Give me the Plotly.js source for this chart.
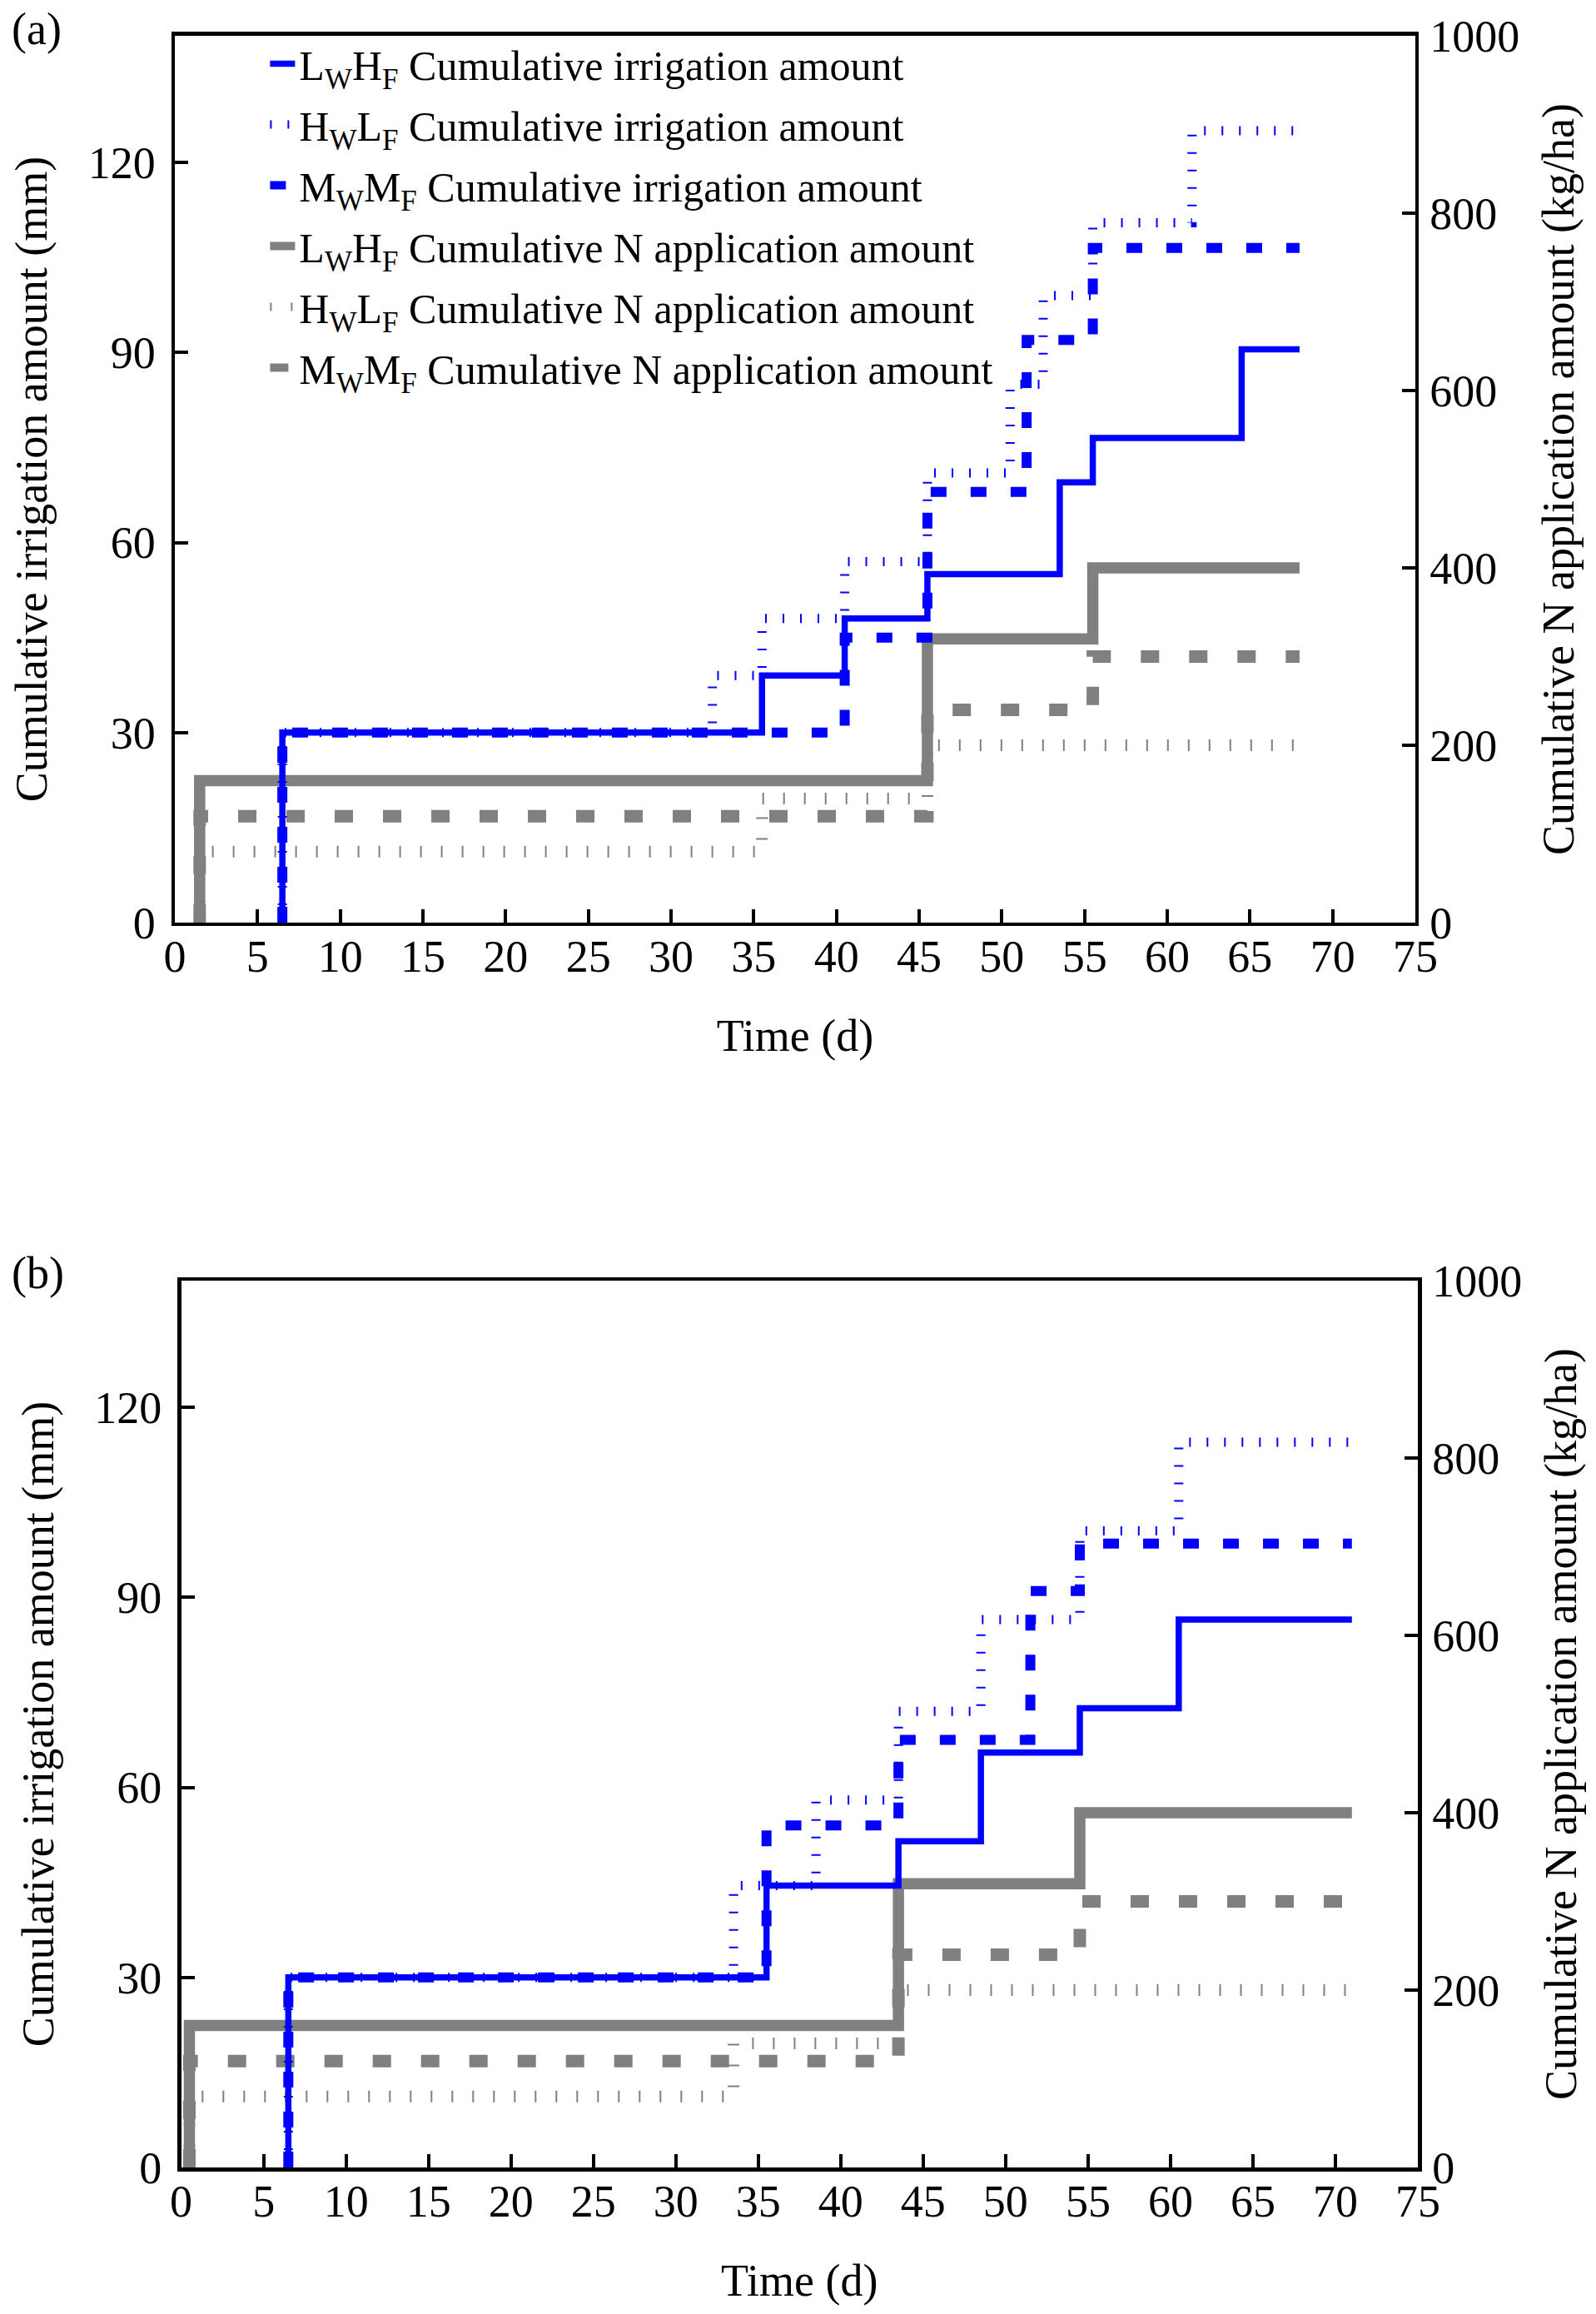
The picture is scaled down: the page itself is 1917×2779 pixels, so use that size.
<!DOCTYPE html>
<html>
<head>
<meta charset="utf-8">
<script src="https://cdn.plot.ly/plotly-3.0.1.min.js"></script>
<style>
html,body{margin:0;padding:0;background:#fff;}
#chart{width:1917px;height:2779px;}
</style>
</head>
<body>
<div id="chart"></div>
<script>
// ---------- Data (panel a) ----------
const tA_LH_irr = [6.5, 6.5, 35.5, 40.5, 45.5, 53.5, 55.5, 64.5, 68];
const vA_LH_irr = [0, 30, 39, 48, 55, 69.5, 76.5, 90.5, 90.5];
const tA_HL_irr = [6.5, 6.5, 32.5, 35.5, 40.5, 45.5, 50.5, 52.5, 55.5, 61.5, 68];
const vA_HL_irr = [0, 30, 39, 48, 57, 71, 85, 99, 110.5, 125, 125];
const tA_MM_irr = [6.5, 6.5, 40.5, 45.5, 51.5, 55.5, 68];
const vA_MM_irr = [0, 30, 45, 68, 92, 106.5, 106.5];
const tA_LH_N = [1.5, 1.5, 45.5, 55.5, 68];
const vA_LH_N = [0, 160, 320, 400, 400];
const tA_HL_N = [1.5, 1.5, 35.5, 45.5, 68];
const vA_HL_N = [0, 80, 140, 200, 200];
const tA_MM_N = [1.5, 1.5, 45.5, 55.5, 68];
const vA_MM_N = [0, 120, 240, 300, 300];

// ---------- Data (panel b) ----------
const tB_LH_irr = [6.5, 6.5, 35.5, 43.5, 48.5, 54.5, 60.5, 71];
const vB_LH_irr = [0, 30, 44.5, 51.5, 65.5, 72.5, 86.5, 86.5];
const tB_HL_irr = [6.5, 6.5, 33.5, 38.5, 43.5, 48.5, 54.5, 60.5, 71];
const vB_HL_irr = [0, 30, 44.5, 58, 72, 86.5, 100.5, 114.5, 114.5];
const tB_MM_irr = [6.5, 6.5, 35.5, 43.5, 51.5, 54.5, 71];
const vB_MM_irr = [0, 30, 54, 67.5, 91, 98.5, 98.5];
const tB_LH_N = [0.5, 0.5, 43.5, 54.5, 71];
const vB_LH_N = [0, 160, 320, 400, 400];
const tB_HL_N = [0.5, 0.5, 33.5, 43.5, 71];
const vB_HL_N = [0, 80, 140, 200, 200];
const tB_MM_N = [0.5, 0.5, 43.5, 54.5, 71];
const vB_MM_N = [0, 120, 240, 300, 300];

// ---------- Labels ----------
const names = [
  'L<sub>W</sub>H<sub>F</sub> Cumulative irrigation amount',
  'H<sub>W</sub>L<sub>F</sub> Cumulative irrigation amount',
  'M<sub>W</sub>M<sub>F</sub> Cumulative irrigation amount',
  'L<sub>W</sub>H<sub>F</sub> Cumulative N application amount',
  'H<sub>W</sub>L<sub>F</sub> Cumulative N application amount',
  'M<sub>W</sub>M<sub>F</sub> Cumulative N application amount'
];
const xTicks = [0,5,10,15,20,25,30,35,40,45,50,55,60,65,70,75];
const irrTicks = [0,30,60,90,120];
const nTicks = [0,200,400,600,800,1000];

const BLUE = '#0000ff', GRAY = '#808080';
const FONT = 'Liberation Serif, Times New Roman, serif';

const styles = [
  {color: BLUE, width: 7.5, dash: 'solid'},
  {color: BLUE, width: 11, dash: '2px,19px'},
  {color: BLUE, width: 12, dash: '19px,29px'},
  {color: GRAY, width: 13.5, dash: 'solid'},
  {color: GRAY, width: 14, dash: '2px,23px'},
  {color: GRAY, width: 15, dash: '22px,36px'}
];

function tr(x, y, i, xa, ya, show) {
  return {x: x, y: y, type: 'scatter', mode: 'lines', name: names[i],
    xaxis: xa, yaxis: ya, showlegend: show, legendrank: i + 1, legendgroup: 'g' + i,
    line: {shape: 'hv', color: styles[i].color, width: styles[i].width, dash: styles[i].dash}};
}

const data = [
  // panel a: N traces on base (right) axis, irrigation on overlay (left) axis
  tr(tA_LH_N, vA_LH_N, 3, 'x', 'y', true),
  tr(tA_HL_N, vA_HL_N, 4, 'x', 'y', true),
  tr(tA_MM_N, vA_MM_N, 5, 'x', 'y', true),
  tr(tA_LH_irr, vA_LH_irr, 0, 'x', 'y2', true),
  tr(tA_HL_irr, vA_HL_irr, 1, 'x', 'y2', true),
  tr(tA_MM_irr, vA_MM_irr, 2, 'x', 'y2', true),
  // panel b
  tr(tB_LH_N, vB_LH_N, 3, 'x2', 'y3', false),
  tr(tB_HL_N, vB_HL_N, 4, 'x2', 'y3', false),
  tr(tB_MM_N, vB_MM_N, 5, 'x2', 'y3', false),
  tr(tB_LH_irr, vB_LH_irr, 0, 'x2', 'y4', false),
  tr(tB_HL_irr, vB_HL_irr, 1, 'x2', 'y4', false),
  tr(tB_MM_irr, vB_MM_irr, 2, 'x2', 'y4', false)
];

const tickFont = {family: FONT, size: 54, color: '#000'};
const titleFont = {family: FONT, size: 54, color: '#000'};
const common = {showgrid: false, zeroline: false, showline: true, linecolor: '#000', linewidth: 4.5,
  ticks: 'inside', ticklen: 16, tickwidth: 4, tickcolor: '#000', tickfont: tickFont, automargin: false};

function xAxis(domain, anchor) {
  return Object.assign({}, common, {domain: domain, anchor: anchor, range: [0, 75],
    tickmode: 'array', tickvals: xTicks, mirror: true, ticklabelstandoff: -10,
    title: {text: 'Time (d)', font: titleFont, standoff: 47}});
}
function nAxis(domain, anchor) {
  return Object.assign({}, common, {domain: domain, anchor: anchor, side: 'right', range: [0, 1000],
    tickmode: 'array', tickvals: nTicks, ticklabelstandoff: 2,
    title: {text: 'Cumulative N application amount (kg/ha)', font: titleFont, standoff: 29}});
}
function irrAxis(over, anchor) {
  return Object.assign({}, common, {overlaying: over, anchor: anchor, side: 'left', range: [0, 140],
    tickmode: 'array', tickvals: irrTicks, ticklabelstandoff: 8,
    title: {text: 'Cumulative irrigation amount (mm)', font: titleFont, standoff: 33}});
}

const layout = {
  width: 1917, height: 2779,
  margin: {l: 0, r: 0, t: 0, b: 0},
  paper_bgcolor: '#fff', plot_bgcolor: 'rgba(0,0,0,0)',
  font: {family: FONT, color: '#000'},
  xaxis: xAxis([0.10955, 0.8868], 'y'),
  yaxis: nAxis([0.6013, 0.98453], 'x'),
  yaxis2: irrAxis('y', 'x'),
  xaxis2: xAxis([0.11351, 0.88837], 'y3'),
  yaxis3: nAxis([0.06333, 0.44656], 'x2'),
  yaxis4: irrAxis('y3', 'x2'),
  legend: {x: 0.1666, y: 0.9865, xanchor: 'left', yanchor: 'top', bgcolor: 'rgba(0,0,0,0)',
    borderwidth: 0, font: {family: FONT, size: 50, color: '#000'}, itemwidth: 30, tracegroupgap: 5},
  annotations: [
    {text: '(a)', xref: 'paper', yref: 'paper', x: 0.006, y: 0.9875, xanchor: 'left', yanchor: 'middle',
      showarrow: false, font: {family: FONT, size: 54, color: '#000'}},
    {text: '(b)', xref: 'paper', yref: 'paper', x: 0.006, y: 0.4497, xanchor: 'left', yanchor: 'middle',
      showarrow: false, font: {family: FONT, size: 54, color: '#000'}}
  ]
};

Plotly.newPlot('chart', data, layout, {staticPlot: true, displayModeBar: false});
</script>
</body>
</html>
